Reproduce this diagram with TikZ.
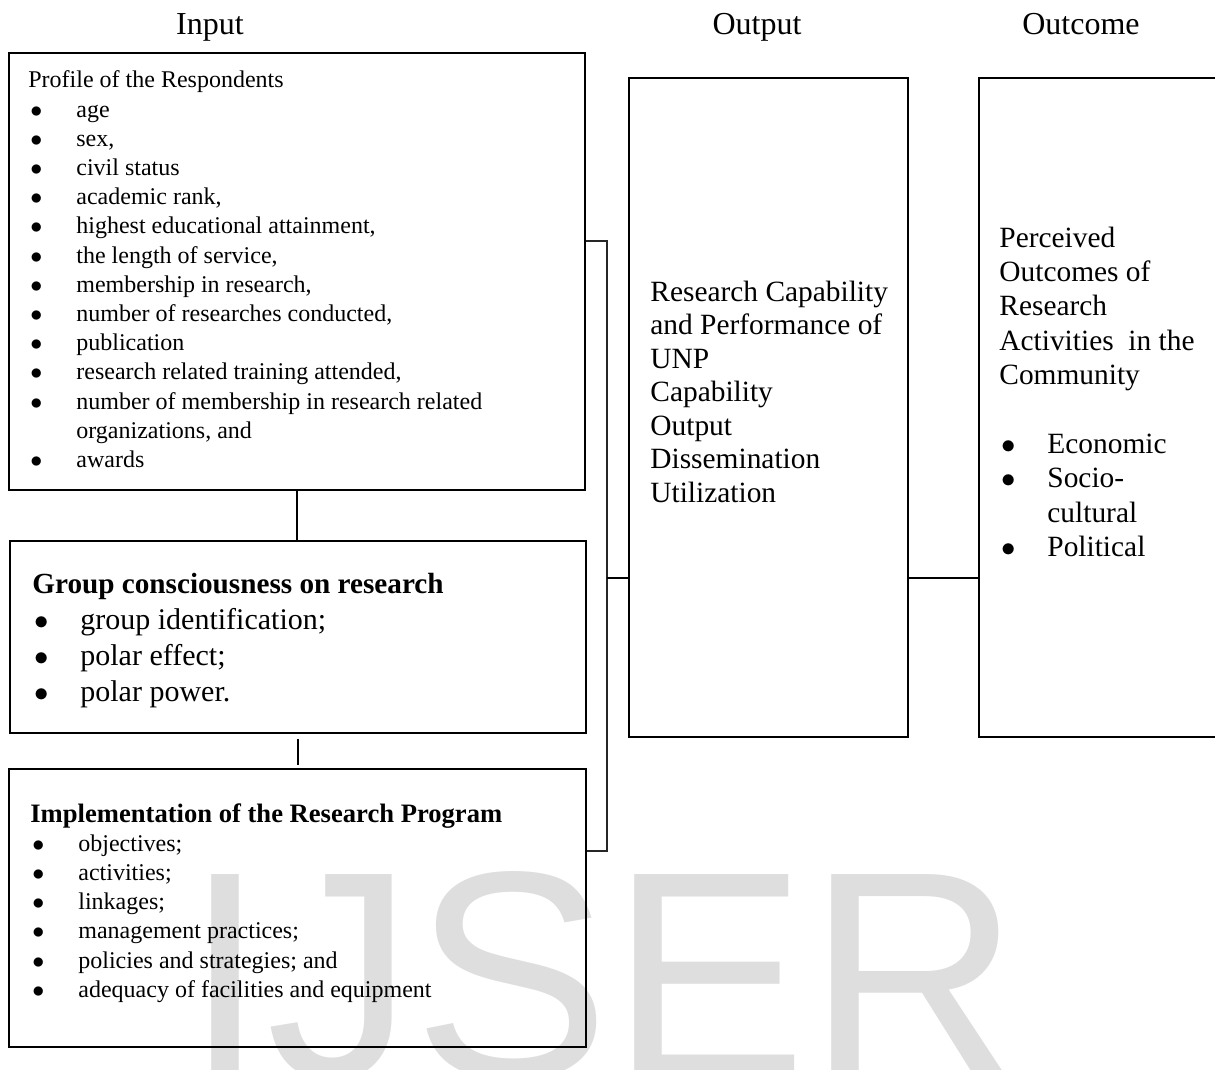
\documentclass[tikz,border=0pt]{standalone}
\usepackage{fontspec}
\setmainfont{Liberation Serif}
\newfontfamily\markfont{Liberation Sans}
\usetikzlibrary{fit}
\definecolor{markgray}{HTML}{DEDEDE}
\newlength{\bulind}
\setlength{\bulind}{24pt}
% bullet line with hanging indent
\newcommand{\bul}[1]{\par\hangindent=\bulind\hangafter=1\noindent
  \makebox[\bulind][l]{\hspace{1pt}$\bullet$}#1}
\tikzset{
  panel/.style    = {draw, line width=1pt, inner sep=0pt},
  heading/.style  = {font=\fontsize{16}{19}\selectfont, anchor=base, inner sep=0pt},
  listtext/.style = {anchor=base west, inner sep=0pt},
  joint/.style    = {line width=1pt},
  bracket/.style  = {line width=0.7pt, draw=black!85},
  watermark/.style = {font=\markfont\fontsize{147.5}{150}\selectfont, text=markgray,
                      anchor=base west, inner sep=0pt},
}
\begin{document}
\begin{tikzpicture}[x=0.5pt, y=-0.5pt]
  \useasboundingbox (0,0) rectangle (1215,1070);
  \node[watermark] (mark) at (184,1077) {IJSER};

  % titles
  \node[heading] (tin)  at (210,35)  {Input};
  \node[heading] (tout) at (757,35)  {Output};
  \node[heading] (tcome) at (1081,35) {Outcome};

  % boxes
  \node[panel, fit={(9,53) (585,490)}]    (profile) {};
  \node[panel, fit={(10,541) (586,733)}]  (group)   {};
  \node[panel, fit={(9,769) (586,1047)}]  (impl)    {};
  \node[panel, fit={(629,78) (908,737)}]  (output)  {};
  \node[panel, fit={(979,78) (1225,737)}] (outcome) {};

  % box texts
  \node[listtext] (proftxt) at (28,88) {\parbox[t]{280pt}{\raggedright
    \fontsize{12}{14.6}\selectfont
    Profile of the Respondents
    \bul{age}
    \bul{sex,}
    \bul{civil status}
    \bul{academic rank,}
    \bul{highest educational attainment,}
    \bul{the length of service,}
    \bul{membership in research,}
    \bul{number of researches conducted,}
    \bul{publication}
    \bul{research related training attended,}
    \bul{number of membership in research related\newline organizations, and}
    \bul{awards}}};
  \node[listtext] (grptxt) at (32,593) {\parbox[t]{280pt}{\raggedright
    \fontsize{15}{18}\selectfont
    {\fontsize{14.6}{17.5}\selectfont\bfseries Group consciousness on research}
    \bul{group identification;}
    \bul{polar effect;}
    \bul{polar power.}}};
  \node[listtext] (impltxt) at (30,822) {\parbox[t]{280pt}{\raggedright
    \fontsize{12}{14.6}\selectfont
    {\fontsize{13.3}{14.6}\selectfont\bfseries Implementation of the Research Program}
    \bul{objectives;}
    \bul{activities;}
    \bul{linkages;}
    \bul{management practices;}
    \bul{policies and strategies; and}
    \bul{adequacy of facilities and equipment}}};
  \node[listtext] (outtxt) at (650,301) {\parbox[t]{130pt}{\raggedright
    \fontsize{14.7}{16.75}\selectfont
    Research Capability\\
    and Performance of\\
    UNP\\
    Capability\\
    Output\\
    Dissemination\\
    Utilization}};
  \node[listtext] (cometxt) at (999,247) {\parbox[t]{105pt}{\raggedright
    \fontsize{14.7}{17.2}\selectfont
    Perceived\\
    Outcomes of\\
    Research\\
    Activities\ \ in the\\
    Community\par\strut
    \bul{Economic}
    \bul{Socio-\newline cultural}
    \bul{Political}}};

  % connectors
  \coordinate (brktop) at (607,241);
  \coordinate (brkbot) at (607,851);
  \coordinate (brkmid) at (607,578);
  \draw[joint] (profile.south) -- (profile.south |- group.north);
  \draw[joint, shorten <=2.5pt, shorten >=1.5pt] (group.south) -- (group.south |- impl.north);
  \draw[bracket] (profile.east |- brktop) -- (brktop) -- (brkbot) -- (impl.east |- brkbot);
  \draw[joint] (brkmid) -- (output.west |- brkmid);
  \draw[joint] (output.east |- brkmid) -- (outcome.west |- brkmid);
\end{tikzpicture}
\end{document}
